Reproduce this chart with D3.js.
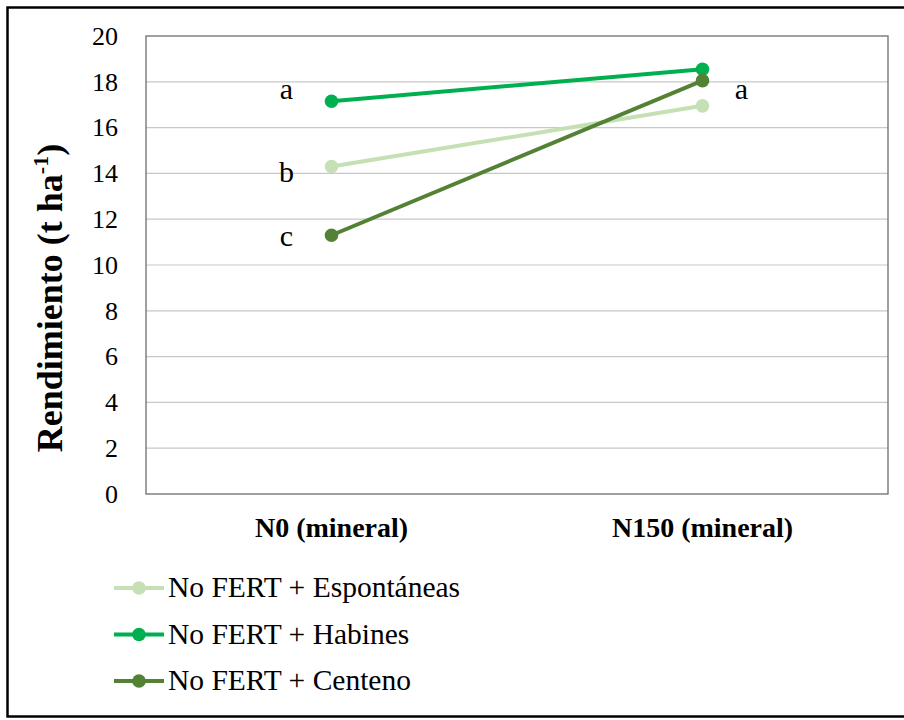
<!DOCTYPE html>
<html><head><meta charset="utf-8">
<script src="https://cdn.jsdelivr.net/npm/d3@7"></script>
<style>body{margin:0;background:#fff}svg{display:block}</style>
</head><body>
<script>
const categories = ["N0 (mineral)", "N150 (mineral)"];
const seriesNames = ["No FERT + Espontáneas", "No FERT + Habines", "No FERT + Centeno"];
const espontaneas = [14.3, 16.95];
const habines = [17.15, 18.55];
const centeno = [11.3, 18.05];
const seriesColors = ["#c5e0b4", "#00b050", "#548235"];
const yTicks = [0, 2, 4, 6, 8, 10, 12, 14, 16, 18, 20];
const letterText = ["a", "b", "c", "a"];
const letterCat = [0, 0, 0, 1];
const letterValue = [17.15, 14.3, 11.3, 18.05];

const W = 904, H = 720;
const FONT = '"Liberation Serif", "Times New Roman", serif';
const svg = d3.select("body").append("svg").attr("width", W).attr("height", H);

// outer frame
svg.append("rect").attr("x", 7.5).attr("y", 7.5).attr("width", 905).attr("height", 709)
  .attr("fill", "none").attr("stroke", "#000").attr("stroke-width", 2.5);

const L = 146, R = 888, T = 36, B = 494;
const x = d3.scaleBand().domain(categories).range([L, R]);
const y = d3.scaleLinear().domain([0, 20]).range([B, T]);

// gridlines
svg.append("g").selectAll("line").data(yTicks.filter(t => t > 0 && t < 20)).join("line")
  .attr("x1", L).attr("x2", R).attr("y1", d => y(d)).attr("y2", d => y(d))
  .attr("stroke", "#c8c8c8").attr("stroke-width", 1.2);

// plot border
svg.append("rect").attr("x", L).attr("y", T).attr("width", R - L).attr("height", B - T)
  .attr("fill", "none").attr("stroke", "#6e6e6e").attr("stroke-width", 1.3);

// y axis labels
const yAxis = d3.axisLeft(y).tickValues(yTicks).tickSize(0).tickPadding(28);
const yg = svg.append("g").attr("transform", `translate(${L},0)`).call(yAxis);
yg.attr("font-family", null);
yg.select(".domain").remove();
yg.selectAll("text").style("font-family", FONT).style("font-size", "26px").attr("fill", "#000");

// x axis labels
const xAxis = d3.axisBottom(x).tickSize(0).tickPadding(0);
const xg = svg.append("g").attr("transform", `translate(0,${B})`).call(xAxis);
xg.attr("font-family", null);
xg.select(".domain").remove();
xg.selectAll("text").attr("y", 43).attr("dy", null)
  .style("font-family", FONT).style("font-size", "28px").style("font-weight", "bold").attr("fill", "#000");

// y title
const yt = svg.append("text").attr("transform", `translate(62,298) rotate(-90)`)
  .attr("text-anchor", "middle").style("font-family", FONT).style("font-size", "36px")
  .style("font-weight", "bold").attr("fill", "#000");
yt.append("tspan").text("Rendimiento (t ha");
yt.append("tspan").style("font-size", "22px").attr("dy", -14).text("-1");
yt.append("tspan").attr("dy", 14).text(")");

// series
const data = [espontaneas, habines, centeno];
const cx = i => x(categories[i]) + x.bandwidth() / 2;
data.forEach((vals, s) => {
  const g = svg.append("g");
  g.append("path").datum(vals)
    .attr("d", d3.line().x((d, i) => cx(i)).y(d => y(d)))
    .attr("fill", "none").attr("stroke", seriesColors[s]).attr("stroke-width", 4);
  g.selectAll("circle").data(vals).join("circle")
    .attr("cx", (d, i) => cx(i)).attr("cy", d => y(d)).attr("r", 6.8)
    .attr("fill", seriesColors[s]);
});

// letters (placement offsets relative to the point)
const letterDx = [-45, -45, -45, 39];
const letterDy = [-2, 15, 11, 18];
svg.append("g").selectAll("text").data(letterText).join("text")
  .attr("x", (d, i) => cx(letterCat[i]) + letterDx[i])
  .attr("y", (d, i) => y(letterValue[i]) + letterDy[i])
  .attr("text-anchor", "middle")
  .style("font-family", FONT).style("font-size", "30px").attr("fill", "#000")
  .text(d => d);

// legend
const lg = svg.append("g");
seriesNames.forEach((name, s) => {
  const ly = 588 + s * 46.5;
  lg.append("line").attr("x1", 114).attr("x2", 164).attr("y1", ly).attr("y2", ly)
    .attr("stroke", seriesColors[s]).attr("stroke-width", 4);
  lg.append("circle").attr("cx", 139).attr("cy", ly).attr("r", 6.8).attr("fill", seriesColors[s]);
  lg.append("text").attr("x", 168).attr("y", ly + 9)
    .style("font-family", FONT).style("font-size", "29.5px").attr("fill", "#000").text(name);
});
</script>
</body></html>
